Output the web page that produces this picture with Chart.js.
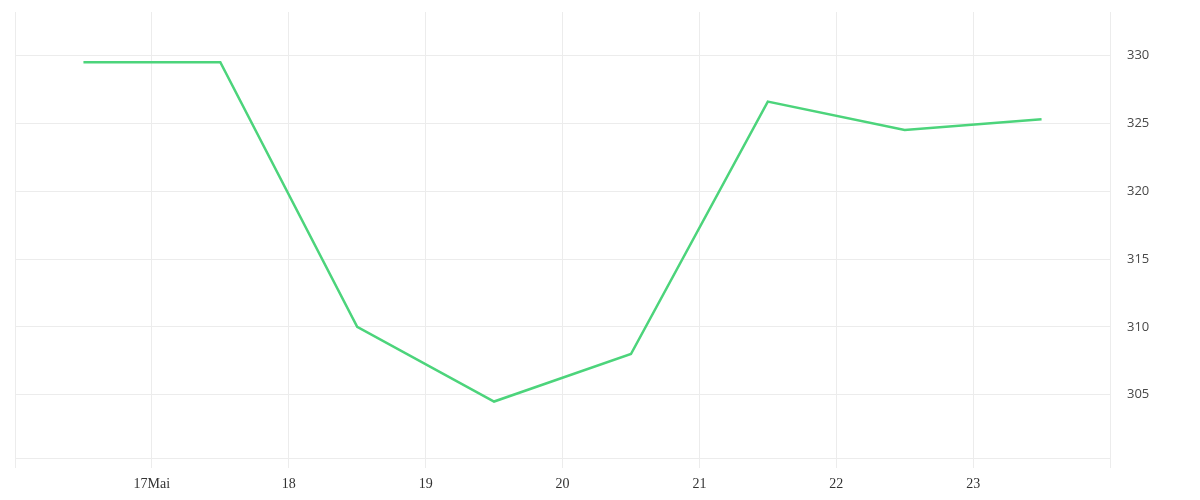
<!DOCTYPE html>
<html>
<head>
<meta charset="utf-8">
<script src="https://cdn.jsdelivr.net/npm/chart.js@4.4.1/dist/chart.umd.min.js"></script>
<style>
  html, body { margin: 0; padding: 0; background: #fff; }
  #grafico { width: 1200px; height: 500px; }
</style>
</head>
<body>
<div id="grafico"><canvas id="cv"></canvas></div>
<script>
// Dias (meio-dia de cada data de maio) e valores
const dias    = [16.5, 17.5, 18.5, 19.5, 20.5, 21.5, 22.5, 23.5];
const valores = [329.5, 329.5, 310.0, 304.5, 308.0, 326.6, 324.5, 325.3];

// Rótulos do eixo x: só o primeiro dia leva o mês
const rotulosX = { 17: '17Mai', 18: '18', 19: '19', 20: '20', 21: '21', 22: '22', 23: '23' };
const ticksY   = [305, 310, 315, 320, 325, 330];

const corLinha = '#4cd47b';
const corGrade = '#ececec';

new Chart(document.getElementById('cv'), {
  type: 'line',
  data: {
    datasets: [{
      data: dias.map((d, i) => ({ x: d, y: valores[i] })),
      borderColor: corLinha,
      borderWidth: 2.5,
      pointRadius: 0,
      tension: 0,
      fill: false
    }]
  },
  options: {
    responsive: true,
    maintainAspectRatio: false,
    animation: false,
    layout: { padding: { top: 12, left: 15, right: 0, bottom: 0 } },
    plugins: {
      legend: { display: false },
      tooltip: { enabled: false }
    },
    scales: {
      x: {
        type: 'linear',
        min: 16,
        max: 24,
        grid: { color: corGrade, tickLength: 10, drawTicks: true },
        border: { color: corGrade },
        ticks: {
          stepSize: 1,
          autoSkip: false,
          maxRotation: 0,
          padding: 9,
          color: '#333',
          font: { family: "'Liberation Serif', serif", size: 14, lineHeight: 1 },
          callback: v => rotulosX[v] || ''
        }
      },
      y: {
        position: 'right',
        min: 300.34,
        max: 333.2,
        grid: { color: corGrade, drawTicks: false },
        border: { display: false },
        afterBuildTicks: scale => { scale.ticks = ticksY.map(v => ({ value: v })); },
        afterFit: scale => {
          // sem folga extra para os rótulos nas pontas do eixo
          scale.width = 90;
          scale.paddingTop = 0;
          scale.paddingBottom = 0;
        },
        ticks: {
          padding: 17,
          color: '#484848',
          font: { family: "'Open Sans', sans-serif", size: 13 }
        }
      }
    }
  }
});
</script>
</body>
</html>
